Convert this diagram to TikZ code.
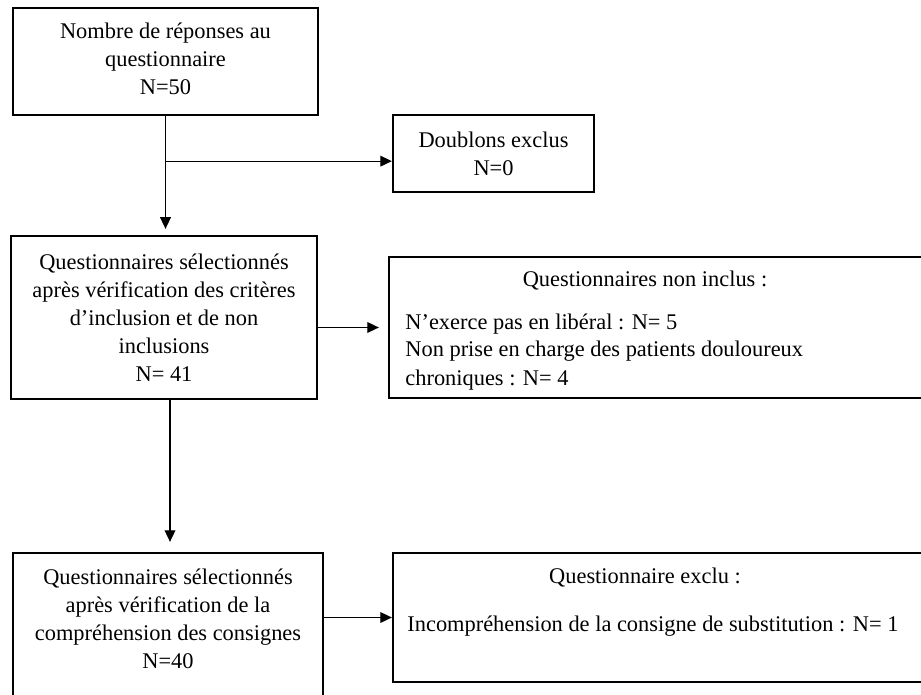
\documentclass[tikz,border=0pt]{standalone}
\usepackage{fontspec}
\setmainfont{Liberation Serif}
\usetikzlibrary{arrows.meta,fit}
\begin{document}
\begin{tikzpicture}[x=0.5pt,y=-0.5pt,
  box/.style={draw=black,line width=1.15pt,inner sep=0pt},
  txt/.style={inner sep=0pt,font=\fontsize{11.2}{14}\selectfont,align=center},
  ltxt/.style={inner sep=0pt,font=\fontsize{11.2}{14}\selectfont,anchor=base west},
  htxt/.style={inner sep=0pt,font=\fontsize{11.2}{14}\selectfont,anchor=base},
  line/.style={line width=0.6pt},
  conn/.style={line width=0.6pt,-{Triangle[length=5.8pt,width=5.4pt]}}]
\useasboundingbox (0,0) rectangle (921,695);
% boxes
\node[box,fit={(13,8) (318,115)}] (b1) {};
\node[box,fit={(393,115) (594,192)}] (b2) {};
\node[box,fit={(11,236) (317,399)}] (b3) {};
\node[box,fit={(389,257) (970,398)}] (b4) {};
\node[box,fit={(13,553) (323,720)}] (b5) {};
\node[box,fit={(393,553) (970,682)}] (b6) {};
% texts
\node[txt] (t1) at (165.5,59) {Nombre de réponses au\\questionnaire\\N=50};
\node[txt] (t2) at (b2.center) {Doublons exclus\\N=0};
\node[txt] (t3) at (164,318) {Questionnaires sélectionnés\\après vérification des critères\\d’inclusion et de non\\inclusions\\N= 41};
\node[htxt] (t4h) at (645,286) {Questionnaires non inclus :};
\node[ltxt] (t4a) at (405,329) {N’exerce pas en libéral : N= 5};
\node[ltxt] (t4b) at (405,357) {Non prise en charge des patients douloureux};
\node[ltxt] (t4c) at (405,385) {chroniques : N= 4};
\node[txt] (t5) at (168,619) {Questionnaires sélectionnés\\après vérification de la\\compréhension des consignes\\N=40};
\node[htxt] (t6h) at (645,583) {Questionnaire exclu :};
\node[ltxt] (t6a) at (407,631) {Incompréhension de la consigne de substitution : N= 1};
% connectors
\coordinate (br) at ([yshift=-22.5pt]b1.south);
\draw[conn,shorten >=3pt] (b1.south) -- (b1.south |- b3.north);
\draw[conn] (br) -- (br -| b2.west);
\draw[conn,shorten >=4.5pt] (b3.east |- b4.west) -- (b4.west);
\draw[conn,shorten >=5pt] ([xshift=3pt]b3.south) -- ([xshift=3pt]b3.south |- b5.north);
\draw[conn] (b5.east |- b6.west) -- (b6.west);
\end{tikzpicture}
\end{document}
